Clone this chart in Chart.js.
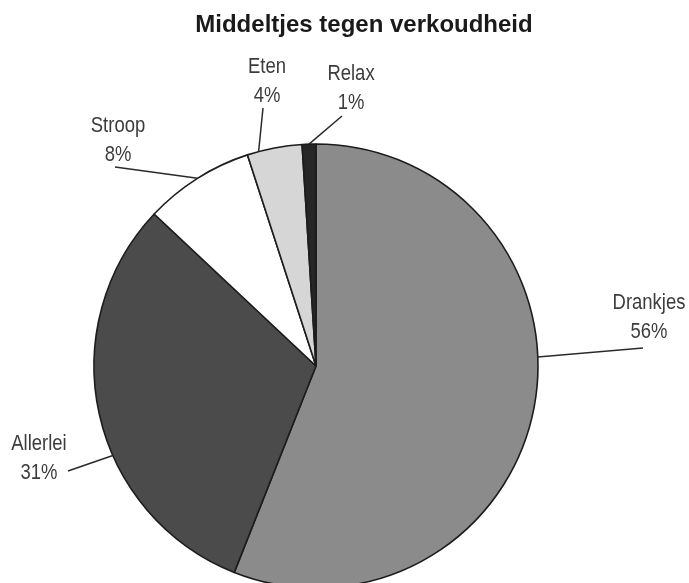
<!DOCTYPE html>
<html><head><meta charset="utf-8">
<script src="https://cdn.jsdelivr.net/npm/chart.js@4.4.0/dist/chart.umd.min.js"></script>
<style>html,body{margin:0;padding:0;overflow:hidden;background:#fff;width:689px;height:583px}canvas{display:block}</style>
</head><body>
<canvas id="c" width="689" height="732"></canvas>
<script>
const categories = ['Drankjes', 'Allerlei', 'Stroop', 'Eten', 'Relax'];
const shares = [56, 31, 8, 4, 1];
const percentLabels = ['56%', '31%', '8%', '4%', '1%'];
const chartTitle = 'Middeltjes tegen verkoudheid';
const sliceColors = ['#8b8b8b', '#4b4b4b', '#ffffff', '#d6d6d6', '#262626'];

// label layout: anchor = fraction along slice where leader starts; offsets in px from pie centre
const labelLayout = [
  {anchor: 0.435, end: [327, -18], text: [333, -57]},
  {anchor: 0.40, end: [-248, 105], text: [-277, 84]},
  {anchor: 0.505, end: [-201, -199], text: [-198, -234]},
  {anchor: 0.21, end: [-53, -258], text: [-49, -293]},
  {anchor: 0.5, end: [26, -250], text: [35, -286]}
];

const labelPlugin = {
  id: 'labels',
  afterDraw(chart) {
    const ctx = chart.ctx;
    const meta = chart.getDatasetMeta(0);
    let cx = 0, cy = 0;
    meta.data.forEach((arc, i) => {
      const p = arc.getProps(['x', 'y', 'startAngle', 'endAngle', 'outerRadius'], true);
      cx = p.x; cy = p.y;
      const L = labelLayout[i];
      const a = p.startAngle + (p.endAngle - p.startAngle) * L.anchor;
      const sx = p.x + Math.cos(a) * p.outerRadius;
      const sy = p.y + Math.sin(a) * p.outerRadius;
      ctx.save();
      ctx.strokeStyle = '#2a2a2a';
      ctx.lineWidth = 1.5;
      ctx.beginPath();
      ctx.moveTo(sx, sy);
      ctx.lineTo(p.x + L.end[0], p.y + L.end[1]);
      ctx.stroke();
      ctx.fillStyle = '#3c3c3c';
      ctx.font = '22px "Liberation Sans", Arial, sans-serif';
      ctx.textAlign = 'center';
      ctx.textBaseline = 'alphabetic';
      const tx = p.x + L.text[0], ty = p.y + L.text[1];
      ctx.translate(tx, 0);
      ctx.scale(0.84, 1);
      ctx.fillText(categories[i], 0, ty);
      ctx.fillText(percentLabels[i], 0, ty + 29);
      ctx.restore();
    });
    ctx.save();
    ctx.fillStyle = '#1a1a1a';
    ctx.font = 'bold 24px "Liberation Sans", Arial, sans-serif';
    ctx.textAlign = 'center';
    ctx.textBaseline = 'alphabetic';
    ctx.fillText(chartTitle, cx + 48, 32);
    ctx.restore();
  }
};

new Chart(document.getElementById('c'), {
  type: 'pie',
  data: {
    labels: categories,
    datasets: [{
      data: shares,
      backgroundColor: sliceColors,
      borderColor: '#1c1c1c',
      borderWidth: 1.6
    }]
  },
  options: {
    responsive: false,
    animation: false,
    radius: 222,
    layout: {padding: {left: 0, right: 57, top: 0, bottom: 0}},
    plugins: {legend: {display: false}, tooltip: {enabled: false}, title: {display: false}}
  },
  plugins: [labelPlugin]
});
</script>
</body></html>
